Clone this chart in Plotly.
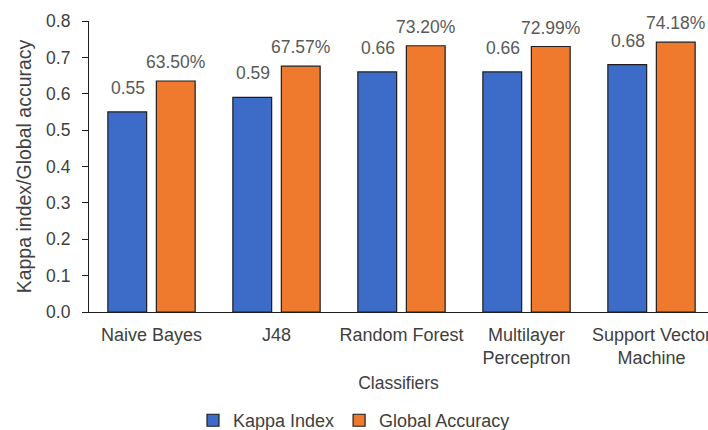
import plotly.graph_objects as go

# Classifier comparison: Cohen's kappa and overall accuracy
classifiers = ["Naive Bayes", "J48", "Random Forest",
               "Multilayer<br>Perceptron", "Support Vector<br>Machine"]
kappa_index = [0.55, 0.59, 0.66, 0.66, 0.68]
global_accuracy = [0.6350, 0.6757, 0.7320, 0.7299, 0.7418]
y_ticks = [0.0, 0.1, 0.2, 0.3, 0.4, 0.5, 0.6, 0.7, 0.8]

FONT = "Liberation Sans, Arial, sans-serif"
BLUE = "#3C6CC8"
ORANGE = "#EF7A2E"
EDGE = "#1E1E1E"
LABEL_GRAY = "#595959"
TEXT_DARK = "#404040"

fig = go.Figure()
fig.add_trace(go.Bar(
    name="Kappa Index", x=classifiers, y=kappa_index,
    marker=dict(color=BLUE, line=dict(color=EDGE, width=1.2)),
))
fig.add_trace(go.Bar(
    name="Global Accuracy", x=classifiers, y=global_accuracy,
    marker=dict(color=ORANGE, line=dict(color=EDGE, width=1.2)),
))

# value labels above each bar
annotations = []
for cat, k, a in zip(classifiers, kappa_index, global_accuracy):
    annotations.append(dict(
        x=cat, y=k, xref="x", yref="y", text=f"{k:.2f}", showarrow=False,
        xshift=-24, yshift=12, yanchor="bottom",
        font=dict(family=FONT, size=17.5, color=LABEL_GRAY),
    ))
    annotations.append(dict(
        x=cat, y=a, xref="x", yref="y", text=f"{a:.2%}", showarrow=False,
        xshift=24, yshift=7, yanchor="bottom",
        font=dict(family=FONT, size=17.5, color=LABEL_GRAY),
    ))

fig.update_layout(
    width=708, height=430,
    margin=dict(l=89, r=0, t=21, b=118, autoexpand=False),
    paper_bgcolor="white", plot_bgcolor="white",
    barmode="group", bargap=0.224, bargroupgap=0.2,
    font=dict(family=FONT, size=18, color=TEXT_DARK),
    showlegend=True,
    legend=dict(
        orientation="h", xref="container", yref="container",
        x=0.5, xanchor="center", y=0.022, yanchor="middle",
        font=dict(family=FONT, size=18, color=TEXT_DARK),
        itemwidth=30, traceorder="normal",
    ),
    annotations=annotations,
)

fig.update_xaxes(
    range=[-0.5, 4.452], showline=True, linecolor="#1E1E1E", linewidth=1.2,
    ticks="", showgrid=False, zeroline=False, ticklabelstandoff=6,
    tickfont=dict(family=FONT, size=18, color=TEXT_DARK),
    title=dict(text="Classifiers", standoff=9,
               font=dict(family=FONT, size=17.5, color=TEXT_DARK)),
)
fig.update_yaxes(
    range=[0, 0.8], tickvals=y_ticks, tickformat=".1f",
    showline=True, linecolor="#1E1E1E", linewidth=1.2,
    ticks="outside", ticklen=6, tickcolor="#1E1E1E", tickwidth=1.2,
    showgrid=False, zeroline=False, ticklabelstandoff=8,
    tickfont=dict(family=FONT, size=17.5, color=TEXT_DARK),
    title=dict(text="Kappa index/Global accuracy", standoff=9,
               font=dict(family=FONT, size=19.5, color=TEXT_DARK)),
)

fig.write_html("out.html")
